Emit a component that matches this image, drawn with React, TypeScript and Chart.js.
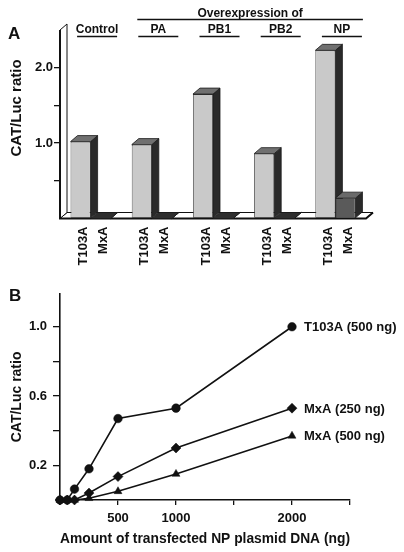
import React, { useEffect, useRef } from "react";
import { Chart, registerables } from "chart.js";

Chart.register(...registerables);

// ---------- Panel A data ----------
const groups = ["Control", "PA", "PB1", "PB2", "NP"];
const overexpressionTitle = "Overexpression of";
const barSeriesNames = ["T103A", "MxA"];
const t103aRatio = [1.02, 0.98, 1.65, 0.86, 2.23];
const mxaRatio = [0, 0, 0, 0, 0.27];
const barTickMarks = [0.5, 1, 1.5, 2];
const barTickLabels = [1, 2];

// ---------- Panel B data ----------
const npDNA = [0, 62.5, 125, 250, 500, 1000, 2000];
const t103a500 = [0, 0, 0.063, 0.18, 0.47, 0.53, 1.0];
const mxa250 = [0, 0, 0, 0.04, 0.135, 0.3, 0.53];
const mxa500 = [0, 0, 0, 0.01, 0.05, 0.15, 0.37];
const lineLabels = ["T103A (500 ng)", "MxA (250 ng)", "MxA (500 ng)"];
const xTickValuesB = [0, 500, 1000, 1500, 2000, 2500];
const xTickLabelsB = [500, 1000, 2000];
const yTickValuesB = [0, 0.2, 0.4, 0.6, 0.8, 1.0];
const yTickLabelsB = [0.2, 0.6, 1.0];

const FONT = "'Liberation Sans', Arial, Helvetica, sans-serif";
const INK = "#111";
const DX = 7;
const DY = -6;

const bold = (size: number) => `bold ${size}px ${FONT}`;
const near = (list: number[], v: number) => list.some((t) => Math.abs(t - v) < 1e-6);

const threeDPlugin = {
  id: "threeD",
  beforeDatasetsDraw(chart: any) {
    const { ctx, chartArea: a } = chart;
    ctx.save();
    ctx.lineJoin = "miter";
    // floor
    ctx.fillStyle = "#fff";
    ctx.strokeStyle = INK;
    ctx.lineWidth = 1;
    ctx.beginPath();
    ctx.moveTo(a.left, a.bottom);
    ctx.lineTo(a.right, a.bottom);
    ctx.lineTo(a.right + DX, a.bottom + DY);
    ctx.lineTo(a.left + DX, a.bottom + DY);
    ctx.closePath();
    ctx.fill();
    ctx.stroke();
    // wall
    ctx.beginPath();
    ctx.moveTo(a.left, a.bottom);
    ctx.lineTo(a.left, a.top);
    ctx.lineTo(a.left + DX, a.top + DY);
    ctx.lineTo(a.left + DX, a.bottom + DY);
    ctx.closePath();
    ctx.fill();
    ctx.stroke();
    // thick front edges
    ctx.lineWidth = 2;
    ctx.beginPath();
    ctx.moveTo(a.left, a.top);
    ctx.lineTo(a.left, a.bottom);
    ctx.lineTo(a.right, a.bottom);
    ctx.lineTo(a.right + DX, a.bottom + DY);
    ctx.stroke();

    // side and top faces of bars, left to right
    const metas = [chart.getDatasetMeta(0), chart.getDatasetMeta(1)];
    ctx.lineWidth = 0.8;
    ctx.strokeStyle = "#1a1a1a";
    for (let i = 0; i < groups.length; i++) {
      metas.forEach((meta: any, k: number) => {
        const el = meta.data[i];
        if (!el) return;
        const { x, y, base, width } = el.getProps(["x", "y", "base", "width"], true);
        const l = x - width / 2;
        const r = x + width / 2;
        const flat = Math.abs(base - y) < 0.5;
        // side
        ctx.fillStyle = "#2a2a2a";
        ctx.beginPath();
        ctx.moveTo(r, y);
        ctx.lineTo(r + DX, y + DY);
        ctx.lineTo(r + DX, base + DY);
        ctx.lineTo(r, base);
        ctx.closePath();
        ctx.fill();
        ctx.stroke();
        // top
        ctx.fillStyle = flat ? "#2e2e2e" : k === 0 ? "#707070" : "#6a6a6a";
        ctx.beginPath();
        ctx.moveTo(l, y);
        ctx.lineTo(r, y);
        ctx.lineTo(r + DX, y + DY);
        ctx.lineTo(l + DX, y + DY);
        ctx.closePath();
        ctx.fill();
        ctx.stroke();
      });
    }
    ctx.restore();
  },
  afterDraw(chart: any) {
    const { ctx, chartArea: a, scales } = chart;
    ctx.save();
    ctx.fillStyle = INK;
    ctx.strokeStyle = INK;
    // rotated bar labels
    ctx.font = bold(13);
    ctx.textBaseline = "middle";
    ctx.textAlign = "right";
    [0, 1].forEach((k) => {
      const meta = chart.getDatasetMeta(k);
      meta.data.forEach((el: any) => {
        ctx.save();
        ctx.translate(el.x + 3, a.bottom + 8);
        ctx.rotate(-Math.PI / 2);
        ctx.fillText(barSeriesNames[k], 0, 0);
        ctx.restore();
      });
    });
    // group headers
    ctx.font = bold(12);
    ctx.textAlign = "center";
    ctx.textBaseline = "alphabetic";
    ctx.lineWidth = 1.3;
    const centers = groups.map((_, i) => scales.x.getPixelForValue(i) + 6.5);
    groups.forEach((g, i) => {
      ctx.fillText(g, centers[i], 33);
      ctx.beginPath();
      ctx.moveTo(centers[i] - 20, 36.5);
      ctx.lineTo(centers[i] + 20, 36.5);
      ctx.stroke();
    });
    ctx.fillText(overexpressionTitle, (centers[1] + centers[4]) / 2, 16.5);
    ctx.beginPath();
    ctx.moveTo(centers[1] - 21, 19.5);
    ctx.lineTo(centers[4] + 21, 19.5);
    ctx.stroke();
    // y title
    ctx.save();
    ctx.font = bold(15);
    ctx.textAlign = "center";
    ctx.textBaseline = "middle";
    ctx.translate(17, 108);
    ctx.rotate(-Math.PI / 2);
    ctx.fillText("CAT/Luc ratio", 0, 0);
    ctx.restore();
    // panel letter
    ctx.font = bold(17);
    ctx.textAlign = "left";
    ctx.fillText("A", 8, 38.5);
    ctx.restore();
  },
};

const lineLabelPlugin = {
  id: "lineLabels",
  afterDraw(chart: any) {
    const { ctx } = chart;
    ctx.save();
    ctx.fillStyle = INK;
    ctx.font = bold(13);
    ctx.textBaseline = "middle";
    ctx.textAlign = "left";
    chart.data.datasets.forEach((_: any, k: number) => {
      const meta = chart.getDatasetMeta(k);
      const last = meta.data[meta.data.length - 1];
      ctx.fillText(lineLabels[k], last.x + 12, last.y + 1);
    });
    ctx.font = bold(17);
    ctx.textBaseline = "alphabetic";
    ctx.fillText("B", 9, 21);
    ctx.restore();
  },
};

export default function App() {
  const refA = useRef<HTMLCanvasElement | null>(null);
  const refB = useRef<HTMLCanvasElement | null>(null);

  useEffect(() => {
    const charts: Chart[] = [];
    if (refA.current) {
      charts.push(
        new Chart(refA.current, {
          type: "bar",
          data: {
            labels: groups,
            datasets: [
              {
                label: barSeriesNames[0],
                data: t103aRatio,
                backgroundColor: "#c9c9c9",
                borderColor: "#2a2a2a",
                borderWidth: 0.8,
                borderSkipped: false,
                categoryPercentage: 0.655,
                barPercentage: 1,
              },
              {
                label: barSeriesNames[1],
                data: mxaRatio,
                backgroundColor: "#5a5a5a",
                borderColor: "#2a2a2a",
                borderWidth: 0.8,
                borderSkipped: false,
                categoryPercentage: 0.655,
                barPercentage: 1,
              },
            ],
          },
          options: {
            animation: false,
            responsive: false,
            maintainAspectRatio: false,
            layout: { padding: { top: 30, right: 38, bottom: 61.5, left: 0 } },
            plugins: { legend: { display: false }, tooltip: { enabled: false } },
            scales: {
              x: { display: false, offset: true },
              y: {
                min: 0,
                max: 2.5,
                afterFit: (s: any) => {
                  s.width = 60;
                },
                border: { display: false },
                grid: {
                  drawOnChartArea: false,
                  drawTicks: true,
                  tickLength: 6,
                  lineWidth: 1.3,
                  color: (c: any) => (c.tick && near(barTickMarks, c.tick.value) ? INK : "rgba(0,0,0,0)"),
                },
                ticks: {
                  stepSize: 0.5,
                  padding: 1,
                  color: INK,
                  font: { family: FONT, size: 13, weight: "bold" },
                  callback: (v: any) => (near(barTickLabels, Number(v)) ? Number(v).toFixed(1) : ""),
                },
              },
            },
          },
          plugins: [threeDPlugin],
        } as any)
      );
    }
    if (refB.current) {
      const series = [t103a500, mxa250, mxa500];
      const styles = ["circle", "rectRot", "triangle"];
      const radii = [4.3, 5, 4.6];
      charts.push(
        new Chart(refB.current, {
          type: "line",
          data: {
            datasets: series.map((vals, k) => ({
              label: lineLabels[k],
              data: npDNA.map((x, i) => ({ x, y: vals[i] })),
              borderColor: INK,
              borderWidth: 1.6,
              backgroundColor: INK,
              pointStyle: styles[k],
              pointRadius: radii[k],
              pointBackgroundColor: INK,
              pointBorderColor: INK,
              pointBorderWidth: 0.5,
              tension: 0,
              clip: false,
            })),
          },
          options: {
            animation: false,
            responsive: false,
            maintainAspectRatio: false,
            layout: { padding: { top: 12, right: 54, bottom: 0, left: 0 } },
            plugins: { legend: { display: false }, tooltip: { enabled: false } },
            scales: {
              x: {
                type: "linear",
                min: 0,
                max: 2500,
                afterBuildTicks: (s: any) => {
                  s.ticks = xTickValuesB.map((value) => ({ value }));
                },
                afterFit: (s: any) => {
                  s.height = 52;
                },
                border: { color: INK, width: 1.6 },
                grid: { drawOnChartArea: false, tickLength: 5, color: INK, lineWidth: 1.3 },
                ticks: {
                  autoSkip: false,
                  maxRotation: 0,
                  padding: 6,
                  color: INK,
                  font: { family: FONT, size: 13, weight: "bold" },
                  callback: (v: any) => (near(xTickLabelsB, Number(v)) ? String(v) : ""),
                },
                title: {
                  display: true,
                  text: "Amount of transfected NP plasmid DNA (ng)",
                  color: INK,
                  font: { family: FONT, size: 14, weight: "bold" },
                  padding: { top: 0, bottom: 4.5 },
                },
              },
              y: {
                min: 0,
                max: 1.19,
                afterBuildTicks: (s: any) => {
                  s.ticks = yTickValuesB.map((value) => ({ value }));
                },
                afterFit: (s: any) => {
                  s.width = 60;
                },
                border: { color: INK, width: 1.6 },
                grid: {
                  drawOnChartArea: false,
                  tickLength: 7,
                  lineWidth: 1.3,
                  color: (c: any) => (c.tick && Math.abs(c.tick.value) < 1e-6 ? "rgba(0,0,0,0)" : INK),
                },
                ticks: {
                  padding: 6,
                  color: INK,
                  font: { family: FONT, size: 13, weight: "bold" },
                  callback: (v: any) => (near(yTickLabelsB, Number(v)) ? Number(v).toFixed(1) : ""),
                },
                title: {
                  display: true,
                  text: "CAT/Luc ratio",
                  color: INK,
                  font: { family: FONT, size: 14, weight: "bold" },
                  padding: { top: 8.6, bottom: 0 },
                },
              },
            },
          },
          plugins: [lineLabelPlugin],
        } as any)
      );
    }
    return () => charts.forEach((c) => c.destroy());
  }, []);

  return (
    <div style={{ position: "absolute", left: 0, top: 0, width: 404, height: 552, background: "#fff" }}>
      <canvas ref={refA} width={404} height={280} style={{ position: "absolute", left: 0, top: 0 }} />
      <canvas ref={refB} width={404} height={272} style={{ position: "absolute", left: 0, top: 280 }} />
    </div>
  );
}
